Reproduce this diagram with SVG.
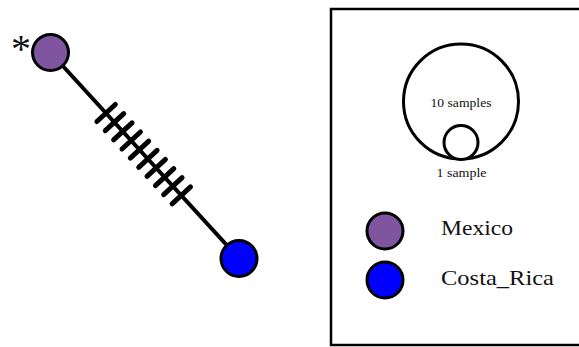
<svg xmlns="http://www.w3.org/2000/svg" width="579" height="347" viewBox="0 0 579 347">
<style>
.node{stroke:#000;stroke-width:3}
.mex{fill:#7f559f}
.cr{fill:#0000ff}
.edge{stroke:#000;stroke-width:4;fill:none}
.tick{stroke:#000;stroke-width:5;stroke-linecap:round}
.lbl{font-family:"Liberation Serif",serif;fill:#111}
.ring{fill:#fff;stroke:#000;stroke-width:3}
</style>
<rect width="579" height="347" fill="#fff"/>
<g id="connectors">
<line class="edge" x1="50.5" y1="52.5" x2="239" y2="258.5"/>
<g id="ticks">
<line class="tick" x1="96.9" y1="121.5" x2="115.3" y2="104.5"/>
<line class="tick" x1="105.3" y1="130.7" x2="123.7" y2="113.7"/>
<line class="tick" x1="113.6" y1="139.8" x2="132.0" y2="122.8"/>
<line class="tick" x1="122.0" y1="149.0" x2="140.4" y2="132.0"/>
<line class="tick" x1="130.3" y1="158.1" x2="148.7" y2="141.1"/>
<line class="tick" x1="138.7" y1="167.3" x2="157.1" y2="150.3"/>
<line class="tick" x1="147.0" y1="176.4" x2="165.4" y2="159.4"/>
<line class="tick" x1="155.4" y1="185.6" x2="173.8" y2="168.6"/>
<line class="tick" x1="163.7" y1="194.7" x2="182.1" y2="177.7"/>
<line class="tick" x1="172.1" y1="203.9" x2="190.5" y2="186.9"/>
</g>
</g>
<g id="node-mexico">
<circle class="node mex" cx="50.5" cy="52.5" r="18"/>
<text class="lbl" x="11" y="62" font-size="40">*</text>
</g>
<g id="node-costa-rica">
<circle class="node cr" cx="239" cy="258.5" r="18"/>
</g>
<g id="legend">
<rect x="331" y="9" width="260" height="336" fill="#fff" stroke="#000" stroke-width="2.5"/>
<circle class="ring" cx="461" cy="101.5" r="57.5"/>
<circle class="ring" cx="461" cy="142.5" r="17"/>
<text class="lbl" x="461" y="106.5" font-size="12.5" text-anchor="middle" textLength="61" lengthAdjust="spacingAndGlyphs">10 samples</text>
<text class="lbl" x="461.5" y="176.5" font-size="12.5" text-anchor="middle" textLength="50" lengthAdjust="spacingAndGlyphs">1 sample</text>
<circle class="node mex" cx="385" cy="231" r="18"/>
<circle class="node cr" cx="385" cy="280" r="18"/>
<text class="lbl" x="441" y="235" font-size="21" textLength="72" lengthAdjust="spacingAndGlyphs">Mexico</text>
<text class="lbl" x="441" y="285" font-size="21" textLength="113" lengthAdjust="spacingAndGlyphs">Costa_Rica</text>
</g>
</svg>
